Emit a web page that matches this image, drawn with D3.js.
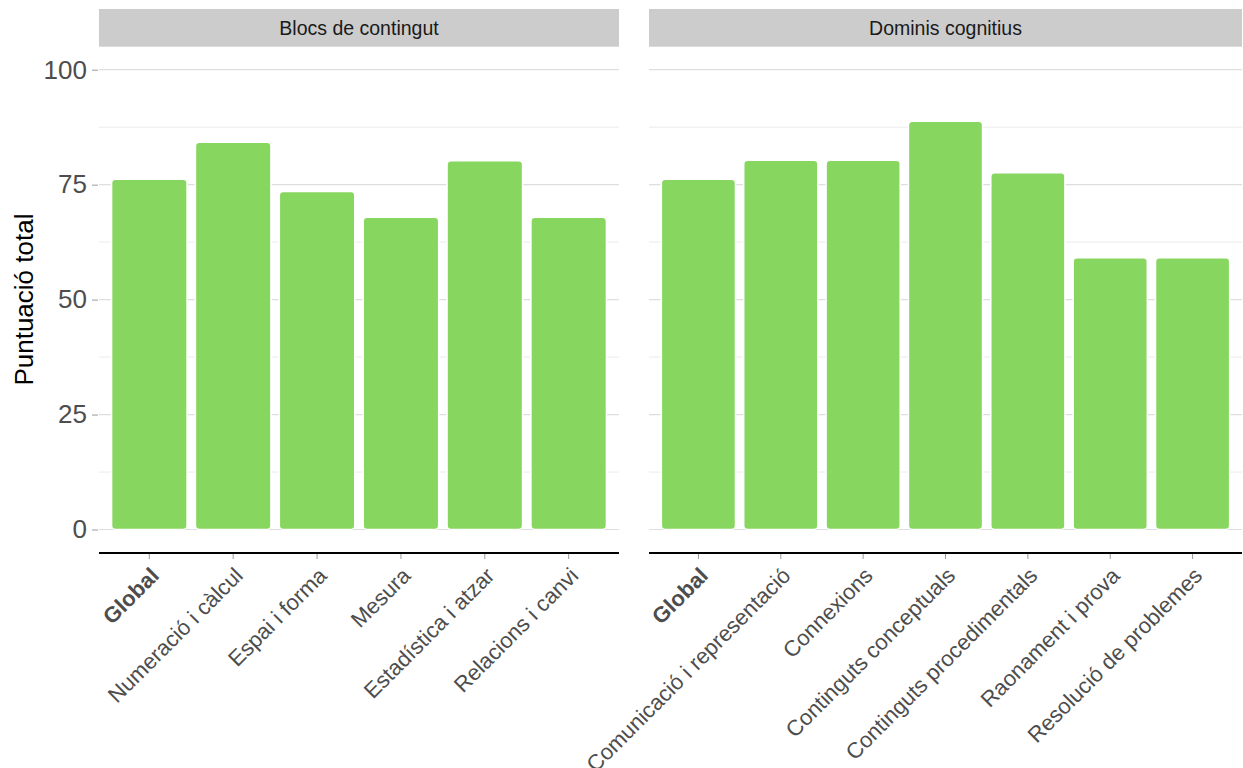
<!DOCTYPE html>
<html>
<head>
<meta charset="utf-8">
<script src="https://cdn.jsdelivr.net/npm/d3@7"></script>
<style>
  body { margin: 0; background: #fff; }
  text { font-family: "Liberation Sans", Arial, Helvetica, sans-serif; }
</style>
</head>
<body>
<svg id="chart" width="1243" height="768"></svg>
<script>
// ---- data ----
const panelTitles = ["Blocs de contingut", "Dominis cognitius"];
const blocsCategories = ["Global", "Numeració i càlcul", "Espai i forma", "Mesura", "Estadística i atzar", "Relacions i canvi"];
const blocsValues = [76.2, 84.2, 73.5, 67.9, 80.2, 67.9];
const dominisCategories = ["Global", "Comunicació i representació", "Connexions", "Continguts conceptuals", "Continguts procedimentals", "Raonament i prova", "Resolució de problemes"];
const dominisValues = [76.2, 80.3, 80.3, 88.8, 77.6, 59.1, 59.1];
const yTicks = [0, 25, 50, 75, 100];
const yMinorTicks = [12.5, 37.5, 62.5, 87.5];
const yTitle = "Puntuació total";

const panels = [
  { title: panelTitles[0], cats: blocsCategories, vals: blocsValues, x0: 99, x1: 619 },
  { title: panelTitles[1], cats: dominisCategories, vals: dominisValues, x0: 649, x1: 1242 }
];

const svg = d3.select("#chart");
const stripTop = 9, stripBottom = 46.7, panelBottom = 552.5, axisY = 553;
const y = d3.scaleLinear().domain([-5, 105]).range([panelBottom, stripBottom]);
const barColor = "#87d65f";
const textGrey = "#4d4d4d";

panels.forEach((p, pi) => {
  const g = svg.append("g");
  const x = d3.scaleBand().domain(p.cats).range([p.x0, p.x1]).paddingInner(0.1).paddingOuter(0.15);

  // strip
  g.append("rect").attr("x", p.x0).attr("y", stripTop).attr("width", p.x1 - p.x0)
    .attr("height", stripBottom - stripTop).attr("fill", "#cccccc");
  g.append("text").attr("x", (p.x0 + p.x1) / 2).attr("y", (stripTop + stripBottom) / 2)
    .attr("text-anchor", "middle").attr("dominant-baseline", "central")
    .attr("font-size", 19.5).attr("fill", "#1a1a1a").text(p.title);

  // gridlines
  g.selectAll(".minor").data(yMinorTicks).join("line")
    .attr("x1", p.x0).attr("x2", p.x1).attr("y1", d => y(d)).attr("y2", d => y(d))
    .attr("stroke", "#ebebeb").attr("stroke-width", 1);
  g.selectAll(".major").data(yTicks).join("line")
    .attr("x1", p.x0).attr("x2", p.x1).attr("y1", d => y(d)).attr("y2", d => y(d))
    .attr("stroke", "#dedede").attr("stroke-width", 1.2);

  // bars
  g.selectAll(".bar").data(p.cats).join("rect")
    .attr("x", d => x(d)).attr("width", x.bandwidth())
    .attr("y", (d, i) => y(p.vals[i])).attr("height", (d, i) => y(0) - y(p.vals[i]))
    .attr("rx", 4).attr("ry", 4)
    .attr("fill", barColor).attr("stroke", "#ffffff").attr("stroke-width", 1.5);

  // x axis
  const xAxis = d3.axisBottom(x).tickSize(6).tickPadding(0);
  const ax = g.append("g").attr("transform", `translate(0,${axisY})`).call(xAxis);
  ax.select(".domain").remove();
  ax.selectAll(".tick line").attr("stroke", "#9a9a9a").attr("stroke-width", 1);
  ax.selectAll(".tick text")
    .attr("font-size", 22).attr("fill", textGrey)
    .attr("font-weight", d => d === "Global" ? "bold" : "normal")
    .attr("text-anchor", "end")
    .attr("dy", null).attr("y", 0)
    .attr("transform", "translate(11,24) rotate(-45)");
  g.append("line").attr("x1", p.x0).attr("x2", p.x1).attr("y1", axisY).attr("y2", axisY)
    .attr("stroke", "#000").attr("stroke-width", 2);

  // y axis (left panel only)
  if (pi === 0) {
    const yAxis = d3.axisLeft(y).tickValues(yTicks).tickSize(6).tickPadding(5);
    const ay = g.append("g").attr("transform", `translate(${p.x0 - 1},0)`).call(yAxis);
    ay.select(".domain").remove();
    ay.selectAll(".tick line").attr("stroke", "#9a9a9a");
    ay.selectAll(".tick text").attr("font-size", 26).attr("fill", textGrey);
  }
});

// y title
svg.append("text")
  .attr("transform", `translate(33,${(stripBottom + panelBottom) / 2}) rotate(-90)`)
  .attr("text-anchor", "middle").attr("font-size", 26).attr("fill", "#000")
  .text(yTitle);
</script>
</body>
</html>
